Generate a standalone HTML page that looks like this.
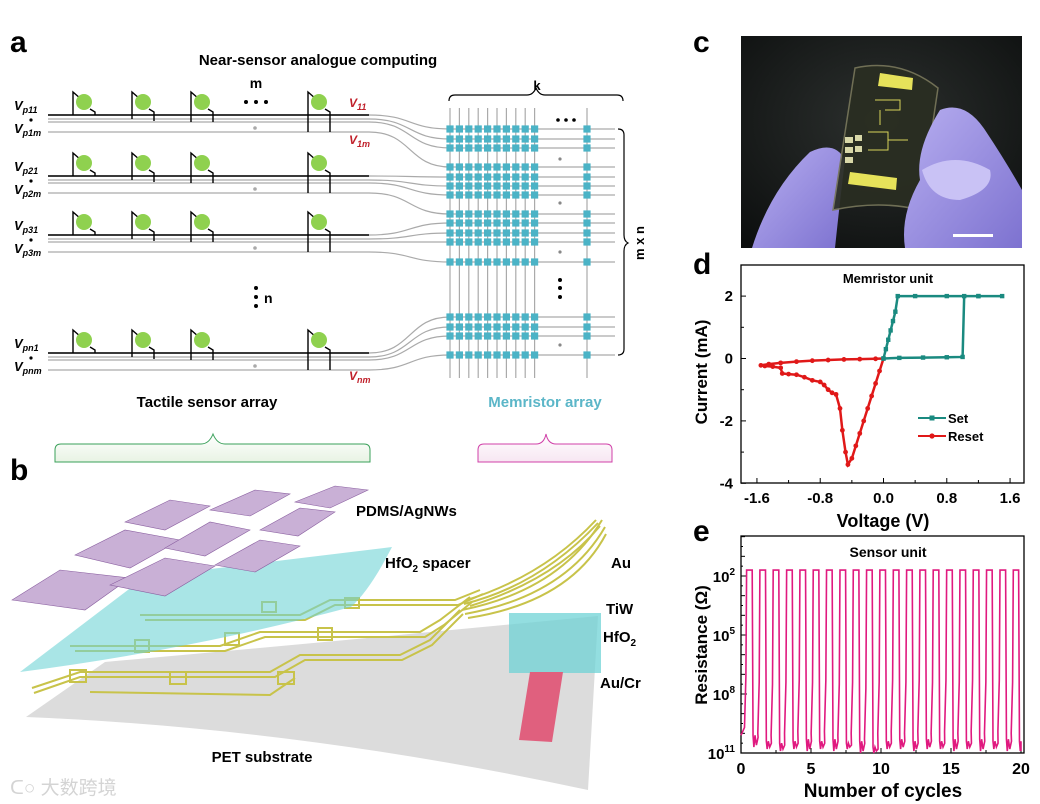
<!DOCTYPE html>
<html><head><meta charset="utf-8"><style>
html,body{margin:0;padding:0;background:#fff}
svg{display:block;font-family:"Liberation Sans","Noto Sans CJK SC",sans-serif}
.b{font-weight:bold}
</style></head><body>
<svg id="fig" width="1040" height="804" viewBox="0 0 1040 804">
<defs>
<linearGradient id="gbr" x1="0" y1="0" x2="0" y2="1"><stop offset="0" stop-color="#fff"/><stop offset="1" stop-color="#e8f3e4"/></linearGradient>
<linearGradient id="pbr" x1="0" y1="0" x2="0" y2="1"><stop offset="0" stop-color="#fff"/><stop offset="1" stop-color="#f7e6f2"/></linearGradient>
<radialGradient id="photo" cx="0.5" cy="0.4" r="0.8"><stop offset="0" stop-color="#2c302e"/><stop offset="1" stop-color="#0a0c0c"/></radialGradient>
<linearGradient id="glove" x1="0" y1="0" x2="1" y2="1"><stop offset="0" stop-color="#b7aef0"/><stop offset="1" stop-color="#7d72d0"/></linearGradient>
</defs>

<!-- PANEL A -->
<g id="panelA">
<text x="10" y="52" class="b" font-size="30">a</text>
<text x="318" y="65" class="b" font-size="15" text-anchor="middle">Near-sensor analogue computing</text>
<text x="256" y="88" class="b" font-size="14" text-anchor="middle">m</text>
<g fill="#000"><circle cx="246" cy="102" r="2"/><circle cx="256" cy="102" r="2"/><circle cx="266" cy="102" r="2"/></g>
<g id="rowsA"></g>
<g id="mem"></g>
<text x="537" y="90" class="b" font-size="13" text-anchor="middle">k</text>
<path d="M449,101 q0,-6 6,-6 h72 q6,0 9,-7 q3,7 9,7 h72 q6,0 6,6" fill="none" stroke="#000" stroke-width="1.2"/>
<path d="M618,129 q6,0 6,6 v100 q0,6 4,8 q-4,2 -4,8 v98 q0,6 -6,6" fill="none" stroke="#000" stroke-width="1.2"/>
<text x="0" y="0" class="b" font-size="13" text-anchor="middle" transform="translate(644,243) rotate(-90)">m x n</text>
<g fill="#000"><circle cx="558" cy="120" r="1.8"/><circle cx="566" cy="120" r="1.8"/><circle cx="574" cy="120" r="1.8"/></g>
<g fill="#000"><circle cx="560" cy="280" r="2"/><circle cx="560" cy="288" r="2"/><circle cx="560" cy="297" r="2"/></g>
<g fill="#000"><circle cx="256" cy="288" r="2"/><circle cx="256" cy="297" r="2"/><circle cx="256" cy="306" r="2"/></g>
<text x="264" y="303" class="b" font-size="14">n</text>
<g fill="#c0202a" font-size="12" font-style="italic" class="b">
<text x="349" y="107">V<tspan font-size="9" dy="3">11</tspan></text>
<text x="349" y="144">V<tspan font-size="9" dy="3">1m</tspan></text>
<text x="349" y="380">V<tspan font-size="9" dy="3">nm</tspan></text>
</g>
<text x="207" y="407" class="b" font-size="15" text-anchor="middle">Tactile sensor array</text>
<text x="545" y="407" class="b" font-size="15" fill="#5bb6c8" text-anchor="middle">Memristor array</text>
<path d="M55,462 v-12 q0,-6 6,-6 h140 q8,0 12,-10 q4,10 12,10 h139 q6,0 6,6 v12 z" fill="url(#gbr)" stroke="#3aa05a" stroke-width="1"/>
<path d="M478,462 v-12 q0,-6 6,-6 h52 q8,0 10,-10 q2,10 10,10 h50 q6,0 6,6 v12 z" fill="url(#pbr)" stroke="#d040a8" stroke-width="1"/>
</g>

<!-- PANEL B -->
<g id="panelB">
<text x="10" y="480" class="b" font-size="30">b</text>
<path d="M26,717 L105,662 Q350,640 598,616 L588,790 Q300,728 26,717 Z" fill="#dcdcdc"/>
<g fill="none" stroke="#c8c34a" stroke-width="2">
<path d="M32,688 L80,672 L270,672 L300,655 L400,655 L430,640 L460,610"/>
<path d="M34,693 L80,677 L275,677 L305,660 L402,660 L432,645 L463,614"/>
<path d="M90,692 L270,695 L295,678"/>
<path d="M70,646 L220,646 L260,632 L420,632 L440,620 L470,597"/>
<path d="M75,651 L225,651 L265,637 L425,637 L444,625 L472,602"/>
<path d="M140,615 L300,615 L330,600 L455,600 L480,590"/>
<path d="M145,620 L305,620 L335,605 L458,605 L483,594"/>
<rect x="70" y="670" width="16" height="12"/><rect x="170" y="672" width="16" height="12"/><rect x="278" y="672" width="16" height="12"/>
<rect x="135" y="640" width="14" height="12"/><rect x="225" y="633" width="14" height="12"/><rect x="318" y="628" width="14" height="12"/>
<rect x="345" y="598" width="14" height="10"/><rect x="262" y="602" width="14" height="10"/>
<path d="M462,610 Q560,590 602,520"/><path d="M465,614 Q565,596 605,527"/><path d="M468,618 Q570,602 606,534"/>
<path d="M470,606 Q555,580 600,526"/><path d="M467,600 Q545,575 596,520"/><path d="M464,604 Q540,585 598,523"/>
</g>
<path d="M20,672 L145,577 L392,547 Q370,590 351,607 Q190,650 20,672 Z" fill="#6fd3d6" opacity="0.6"/>
<g fill="#c9b0d6" stroke="#8a5fa0" stroke-width="0.6">
<path d="M12,600 L60,570 L130,578 L85,610 Z"/><path d="M75,555 L125,530 L180,540 L130,568 Z"/>
<path d="M125,522 L170,500 L210,506 L165,530 Z"/><path d="M110,585 L165,558 L215,566 L165,596 Z"/>
<path d="M165,548 L210,522 L250,530 L205,556 Z"/><path d="M210,510 L255,490 L290,494 L250,516 Z"/>
<path d="M215,565 L260,540 L300,546 L255,572 Z"/><path d="M260,530 L300,508 L335,512 L298,536 Z"/>
<path d="M295,502 L335,486 L368,490 L330,508 Z"/>
</g>
<rect x="509" y="613" width="92" height="60" fill="#6fd3d6" opacity="0.75"/>
<path d="M530,672 L563,672 L552,742 L519,740 Z" fill="#e0607e"/>
<g class="b" font-size="15">
<text x="356" y="516">PDMS/AgNWs</text>
<text x="385" y="568">HfO<tspan font-size="10" dy="4">2</tspan><tspan dy="-4"> spacer</tspan></text>
<text x="611" y="568">Au</text>
<text x="606" y="614">TiW</text>
<text x="603" y="642">HfO<tspan font-size="10" dy="4">2</tspan></text>
<text x="600" y="688">Au/Cr</text>
<text x="262" y="762" text-anchor="middle">PET substrate</text>
</g>
<text x="10" y="794" font-size="19" fill="#d4d4d4">ᑕ○ 大数跨境</text>
</g>

<!-- PANEL C -->
<g id="panelC">
<text x="693" y="52" class="b" font-size="30">c</text>
<rect x="741" y="36" width="281" height="212" fill="url(#photo)"/>
<path d="M752,248 Q770,190 810,152 Q835,140 845,160 Q840,200 835,248 Z" fill="url(#glove)"/>
<path d="M855,68 Q900,58 938,88 L920,210 Q880,200 833,210 Z" fill="#2a2e22" opacity="0.92" stroke="#77765a" stroke-width="1.5"/>
<path d="M880,73 L913,78 L912,90 L878,86 Z" fill="#e6e25a"/>
<path d="M850,172 L897,178 L896,190 L848,184 Z" fill="#e6e25a"/>
<g fill="#d8d8a8"><rect x="845" y="137" width="8" height="6"/><rect x="845" y="147" width="8" height="6"/><rect x="845" y="157" width="8" height="6"/><rect x="855" y="135" width="7" height="6"/><rect x="855" y="146" width="7" height="6"/></g>
<g fill="none" stroke="#d8d45a" stroke-width="1"><path d="M875,100 h25 v10 h-15 M880,110 v15"/><path d="M868,132 h20 v18 h-20 M888,140 h20"/></g>
<path d="M905,248 Q900,215 920,180 Q915,150 940,110 Q965,100 985,130 Q1005,160 1022,190 V248 Z" fill="url(#glove)"/>
<path d="M922,170 Q955,150 990,170 Q995,190 960,200 Q930,200 922,170 Z" fill="#c9c2f5"/>
<rect x="953" y="234" width="40" height="3" fill="#fff"/>
</g>

<!-- PANEL D -->
<g id="panelD">
<text x="693" y="274" class="b" font-size="30">d</text>
<g id="dPlot"></g>
</g>
<!-- PANEL E -->
<g id="panelE">
<text x="693" y="541" class="b" font-size="30">e</text>
<g id="ePlot"></g>
</g>
</svg>
<script>
// ---- panel d data ----
const setV = [0,0.03,0.06,0.09,0.12,0.15,0.18,0.4,0.8,1.2,1.5,1.2,1.02,1.0,0.8,0.5,0.2,0];
const setI = [0,0.3,0.6,0.9,1.2,1.5,2.0,2.0,2.0,2.0,2.0,2.0,2.0,0.05,0.04,0.03,0.02,0];
const resetV = [0,-0.05,-0.1,-0.15,-0.2,-0.25,-0.3,-0.35,-0.4,-0.45,-0.48,-0.52,-0.55,-0.6,-0.65,-0.7,-0.75,-0.8,-0.9,-1.0,-1.1,-1.2,-1.28,-1.3,-1.4,-1.5,-1.55,-1.45,-1.3,-1.1,-0.9,-0.7,-0.5,-0.3,-0.1,0];
const resetI = [0,-0.4,-0.8,-1.2,-1.6,-2.0,-2.4,-2.8,-3.2,-3.4,-3.0,-2.3,-1.6,-1.15,-1.1,-1.0,-0.85,-0.75,-0.7,-0.6,-0.52,-0.5,-0.48,-0.3,-0.26,-0.24,-0.22,-0.18,-0.14,-0.1,-0.07,-0.05,-0.03,-0.02,-0.01,0];
const dXTicks = [-1.6,-0.8,0.0,0.8,1.6];
const dXTickLabels = ["-1.6","-0.8","0.0","0.8","1.6"];
const dYTicks = [2,0,-2,-4];
const dYTickLabels = ["2","0","-2","-4"];
// ---- panel e data ----
const riseT = [0.40,1.35,2.30,3.26,4.21,5.16,6.11,7.07,8.02,8.97,9.92,10.88,11.83,12.78,13.73,14.69,15.64,16.59,17.54,18.50,19.45];
const plateauW = [0.40,0.40,0.40,0.40,0.40,0.40,0.40,0.40,0.40,0.40,0.40,0.40,0.40,0.40,0.40,0.40,0.40,0.40,0.40,0.40,0.38];
const highExp = [1.7,1.7,1.7,1.7,1.7,1.7,1.7,1.7,1.7,1.7,1.7,1.7,1.7,1.7,1.7,1.7,1.7,1.7,1.7,1.7,1.7];
const lowExpA = [10.1,10.4,10.5,10.4,10.3,10.4,10.3,10.5,10.4,10.7,10.4,10.3,10.4,10.3,10.4,10.3,10.4,10.3,10.4,10.3,10.4];
const lowExpB = [10.7,10.8,10.9,10.8,10.9,10.8,10.9,10.8,11.0,11.0,10.8,10.8,10.9,10.8,10.8,10.9,10.8,10.9,10.8,10.9,10.9];
const eXTicks = [0,5,10,15,20];
const eXTickLabels = ["0","5","10","15","20"];
const eYTicks = [2,5,8,11];

const NS='http://www.w3.org/2000/svg';
function mk(tag, attrs, parent){const e=document.createElementNS(NS,tag);for(const k in attrs)e.setAttribute(k,attrs[k]);parent.appendChild(e);return e;}

// ---------- Panel A circuit ----------
(function(){
const rows=document.getElementById('rowsA');
const rowY=[115,176,235,353];
const rowNames=[['p11','p1m'],['p21','p2m'],['p31','p3m'],['pn1','pnm']];
const sx=[73,132,191,308];
const offL=[0,4,7,17];
const offR=[0,6,7,17];
const memRows=[[129,139,148,167],[177,186,195,214],[223,233,242,262],[317,327,336,355]];
rowY.forEach((y,r)=>{
  [0,4,7,17].forEach((o,i)=>{
    const l=mk('path',{d:`M48,${y+o} L369,${y+o} C412,${y+o} 408,${memRows[r][i]} 450,${memRows[r][i]} L615,${memRows[r][i]}`,fill:'none',stroke:'#aaa','stroke-width':1.2},rows);
    
    
  });
  const bl=mk('line',{x1:48,y1:y,x2:369,y2:y,stroke:'#000','stroke-width':1.6},rows);
  
  
  mk('circle',{cx:255,cy:y+13,r:1.8,fill:'#aaa'},rows);
  sx.forEach((x,j)=>{
    const p=mk('path',{d:`M${x},${y+offL[j]} V${y-23} L${x+8},${y-16} M${x+17},${y-6} L${x+22},${y-3} V${y+offR[j]}`,fill:'none',stroke:'#000','stroke-width':1.4},rows);
    
    
    const c=mk('circle',{cx:x+11,cy:y-13,r:8,fill:'#8fd14f'},rows);
    
    
  });
  const t1=mk('text',{x:14,y:y-5,'font-size':13,'font-style':'italic','font-weight':'bold'},rows);
  t1.innerHTML=`V<tspan font-size="9" dy="3">${rowNames[r][0]}</tspan>`;
  
  
  const t2=mk('text',{x:14,y:y+18,'font-size':13,'font-style':'italic','font-weight':'bold'},rows);
  t2.innerHTML=`V<tspan font-size="9" dy="3">${rowNames[r][1]}</tspan>`;
  
  
  mk('circle',{cx:31,cy:y+5,r:1.6,fill:'#000'},rows);
});
const mem=document.getElementById('mem');
const cols=[];for(let i=0;i<10;i++)cols.push(450+i*9.4);cols.push(587);
cols.forEach(x=>{mk('line',{x1:x,y1:108,x2:x,y2:378,stroke:'#aaa','stroke-width':1.2},mem);});
memRows.flat().forEach(y=>{cols.forEach(x=>{
  const s=mk('rect',{x:x-3.6,y:y-3.6,width:7.2,height:7.2,fill:'#4bb3c6'},mem);
  
  
});});
[159,203,252,345].forEach(y=>mk('circle',{cx:560,cy:y,r:1.6,fill:'#888'},mem));
})();

// ---------- Panel D ----------
(function(){
const g=document.getElementById('dPlot');
const L=741,R=1024,T=265,B=483;
const xS=v=>883.5+v*79.1;
const yS=v=>358.5-v*31.2;
mk('rect',{x:L,y:T,width:R-L,height:B-T,fill:'none',stroke:'#000','stroke-width':1.3},g);
dXTicks.forEach((v,i)=>{
  mk('line',{x1:xS(v),y1:B,x2:xS(v),y2:B-5,stroke:'#000'},g);
  mk('line',{x1:xS(v+0.4),y1:B,x2:xS(v+0.4),y2:B-3,stroke:'#000'},g);
  const t=mk('text',{x:xS(v),y:B+20,'font-size':15,'font-weight':'bold','text-anchor':'middle'},g);t.textContent=dXTickLabels[i];
  
  
});
dYTicks.forEach((v,i)=>{
  mk('line',{x1:L,y1:yS(v),x2:L+5,y2:yS(v),stroke:'#000'},g);
  if(v>-4)mk('line',{x1:L,y1:yS(v-1),x2:L+3,y2:yS(v-1),stroke:'#000'},g);
  const t=mk('text',{x:L-8,y:yS(v)+5,'font-size':15,'font-weight':'bold','text-anchor':'end'},g);t.textContent=dYTickLabels[i];
  
  
});
const xt=mk('text',{x:883,y:527,'font-size':18,'font-weight':'bold','text-anchor':'middle'},g);xt.textContent='Voltage (V)';


const yt=mk('text',{x:0,y:0,'font-size':17,'font-weight':'bold','text-anchor':'middle',transform:'translate(707,372) rotate(-90)'},g);yt.textContent='Current (mA)';


const tt=mk('text',{x:888,y:283,'font-size':13,'font-weight':'bold','text-anchor':'middle'},g);tt.textContent='Memristor unit';


const rl=mk('polyline',{points:resetV.map((v,i)=>xS(v)+','+yS(resetI[i])).join(' '),fill:'none',stroke:'#e01818','stroke-width':2.5},g);


resetV.forEach((v,i)=>{const c=mk('circle',{cx:xS(v),cy:yS(resetI[i]),r:2.4,fill:'#e01818'},g);

});
const sl=mk('polyline',{points:setV.map((v,i)=>xS(v)+','+yS(setI[i])).join(' '),fill:'none',stroke:'#1a8a80','stroke-width':2.5},g);


setV.forEach((v,i)=>{const c=mk('rect',{x:xS(v)-2.2,y:yS(setI[i])-2.2,width:4.4,height:4.4,fill:'#1a8a80'},g);

});
const le1=mk('g',{},g);


mk('line',{x1:918,y1:418,x2:946,y2:418,stroke:'#1a8a80','stroke-width':2},le1);
mk('rect',{x:929.5,y:415.5,width:5,height:5,fill:'#1a8a80'},le1);
const t1=mk('text',{x:948,y:423,'font-size':13,'font-weight':'bold'},le1);t1.textContent='Set';
const le2=mk('g',{},g);


mk('line',{x1:918,y1:436,x2:946,y2:436,stroke:'#e01818','stroke-width':2},le2);
mk('circle',{cx:932,cy:436,r:2.6,fill:'#e01818'},le2);
const t2=mk('text',{x:948,y:441,'font-size':13,'font-weight':'bold'},le2);t2.textContent='Reset';
})();

// ---------- Panel E ----------
(function(){
const g=document.getElementById('ePlot');
const L=741,R=1024,T=536,B=753;
const xS=v=>L+v*(1021-741)/20;
const yS=e=>576+(e-2)*(753-576)/9;
mk('rect',{x:L,y:T,width:R-L,height:B-T,fill:'none',stroke:'#000','stroke-width':1.3},g);
eXTicks.forEach((v,i)=>{
  mk('line',{x1:xS(v),y1:B,x2:xS(v),y2:B-5,stroke:'#000'},g);
  if(v<20)mk('line',{x1:xS(v+2.5),y1:B,x2:xS(v+2.5),y2:B-3,stroke:'#000'},g);
  const t=mk('text',{x:xS(v),y:B+21,'font-size':16,'font-weight':'bold','text-anchor':'middle'},g);t.textContent=eXTickLabels[i];
  
  
});
for(let e=0;e<=11;e+=0.5){if(yS(e)>T)mk('line',{x1:L,y1:yS(e),x2:L+(e%1===0?4:2),y2:yS(e),stroke:'#000'},g);}
eYTicks.forEach(v=>{
  mk('line',{x1:L,y1:yS(v),x2:L+6,y2:yS(v),stroke:'#000'},g);
  const t=mk('text',{x:L-6,y:yS(v)+6,'font-size':15,'font-weight':'bold','text-anchor':'end'},g);
  t.innerHTML=`10<tspan font-size="10" dy="-7">${v}</tspan>`;
  
  
});
const xt=mk('text',{x:883,y:797,'font-size':19,'font-weight':'bold','text-anchor':'middle'},g);xt.textContent='Number of cycles';


const yt=mk('text',{x:0,y:0,'font-size':17,'font-weight':'bold','text-anchor':'middle',transform:'translate(707,645) rotate(-90)'},g);yt.textContent='Resistance (Ω)';


const tt=mk('text',{x:888,y:557,'font-size':14,'font-weight':'bold','text-anchor':'middle'},g);tt.textContent='Sensor unit';


let pts=[[0,lowExpA[0]]];
riseT.forEach((t,i)=>{
  pts.push([t-0.15,lowExpA[i]-0.4]);
  pts.push([t-0.05,lowExpA[i]-3]);
  pts.push([t,highExp[i]]);
  pts.push([t+plateauW[i],highExp[i]]);
  pts.push([t+plateauW[i]+0.06,lowExpA[i]]);
  pts.push([t+plateauW[i]+0.12,lowExpB[i]]);
  pts.push([t+plateauW[i]+0.2,lowExpA[i]]);
  pts.push([t+plateauW[i]+0.3,lowExpB[i]-0.1]);
  pts.push([t+plateauW[i]+0.42,lowExpA[i]+0.1]);
});
pts.push([20,lowExpB[20]]);
const pl=mk('polyline',{points:pts.map(p=>xS(Math.min(p[0],20))+','+yS(p[1])).join(' '),fill:'none',stroke:'#e0197f','stroke-width':1.6},g);


})();
</script>
</body></html>
